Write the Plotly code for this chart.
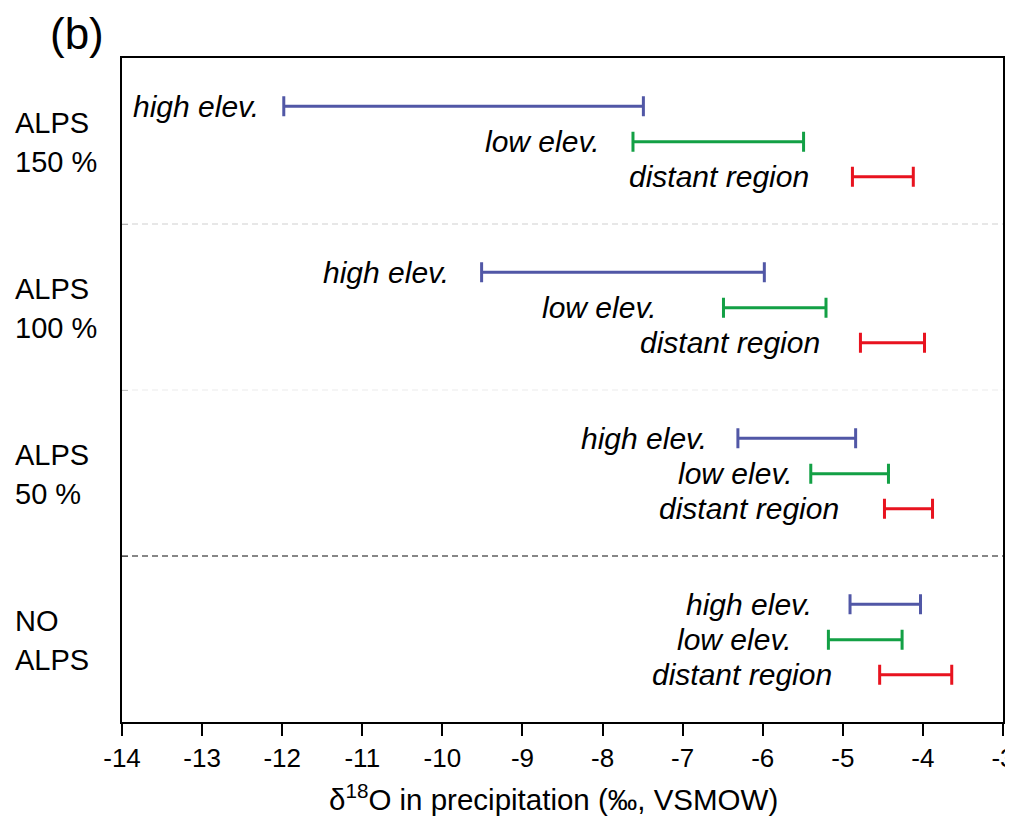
import plotly.graph_objects as go

# ---- data ----
groups = [["ALPS", "150 %"], ["ALPS", "100 %"], ["ALPS", "50 %"], ["NO", "ALPS"]]
series = ["high elev.", "low elev.", "distant region"]
high_lo = [-11.98, -9.51, -6.31, -4.91]
high_hi = [-7.49, -5.98, -4.84, -4.03]
low_lo = [-7.62, -6.49, -5.40, -5.18]
low_hi = [-5.49, -5.21, -4.43, -4.26]
dist_lo = [-4.88, -4.78, -4.48, -4.54]
dist_hi = [-4.12, -3.98, -3.88, -3.64]
x_ticks = list(range(-14, -2))
x_title = "δ<sup>18</sup>O in precipitation (‰, VSMOW)"

# ---- layout helpers (label right edges in axis units, row offsets) ----
label_end = {
    "high elev.": [-12.31, -9.94, -6.72, -5.41],
    "low elev.": [-8.06, -7.35, -5.65, -5.66],
    "distant region": [-5.45, -5.31, -5.07, -5.16],
}
row_off = [0.29, 0.505, 0.715]
colors = ["#5157a6", "#13a045", "#e8131f"]
FONT = "Liberation Sans, Arial, sans-serif"

lo = {"high elev.": high_lo, "low elev.": low_lo, "distant region": dist_lo}
hi = {"high elev.": high_hi, "low elev.": low_hi, "distant region": dist_hi}

fig = go.Figure()
annotations = []
for si, s in enumerate(series):
    ys = [g + row_off[si] for g in range(len(groups))]
    cx = [(a + b) / 2 for a, b in zip(lo[s], hi[s])]
    half = [(b - a) / 2 for a, b in zip(lo[s], hi[s])]
    fig.add_trace(go.Scatter(
        x=cx, y=ys, mode="markers",
        marker=dict(size=1, color="rgba(0,0,0,0)"),
        error_x=dict(type="data", array=half, symmetric=True,
                     color=colors[si], thickness=3, width=10),
        showlegend=False, hoverinfo="skip"))
    for g in range(len(groups)):
        annotations.append(dict(
            x=label_end[s][g], y=ys[g], xref="x", yref="y", xshift=4,
            text=s, showarrow=False, xanchor="right", yanchor="middle",
            font=dict(family=FONT, size=30, color="black", style="italic")))

for g, lines in enumerate(groups):
    for li, txt in enumerate(lines):
        annotations.append(dict(
            x=-0.126, y=g + 0.5, xref="paper", yref="y", text=txt,
            xshift=2, yshift=18 - 39 * li,
            showarrow=False, xanchor="left", yanchor="middle", align="left",
            font=dict(family=FONT, size=29, color="black")))

annotations.append(dict(
    x=-0.086, y=1.037, xref="paper", yref="paper", text="(b)", xshift=2,
    showarrow=False, xanchor="left", yanchor="middle",
    font=dict(family=FONT, size=44, color="black")))

annotations.append(dict(
    x=0.488, y=-0.114, xref="paper", yref="paper", text=x_title, xshift=2,
    showarrow=False, xanchor="center", yanchor="middle",
    font=dict(family=FONT, size=29.5, color="black")))

sep_colors = ["#d0d0d0", "#ececec", "#111111"]
shapes = []
for i, c in enumerate(sep_colors):
    shapes.append(dict(type="line", xref="paper", yref="y", x0=0, x1=1,
                       y0=i + 1, y1=i + 1,
                       line=dict(color=c, width=1.2, dash="6px,4px")))

fig.update_layout(
    width=1013, height=818,
    margin=dict(l=114, r=18, t=50, b=104, autoexpand=False),
    plot_bgcolor="white", paper_bgcolor="white",
    annotations=annotations, shapes=shapes,
    font=dict(family=FONT, color="black"),
    xaxis=dict(range=[-14, -3], tickvals=x_ticks,
               ticktext=[str(t) for t in x_ticks],
               ticks="outside", ticklen=12, tickwidth=2, tickcolor="black",
               showline=True, linecolor="black", linewidth=2, mirror=True,
               showgrid=False, zeroline=False, automargin=False,
               ticklabeloverflow="allow",
               tickfont=dict(size=26, family=FONT)),
    yaxis=dict(range=[4, 0], tickvals=[1, 2, 3], showticklabels=False,
               ticks="inside", ticklen=6, tickwidth=1, tickcolor="#999999",
               showline=True, linecolor="black", linewidth=2, mirror=True,
               showgrid=False, zeroline=False, automargin=False),
)

fig.write_html("out.html")
